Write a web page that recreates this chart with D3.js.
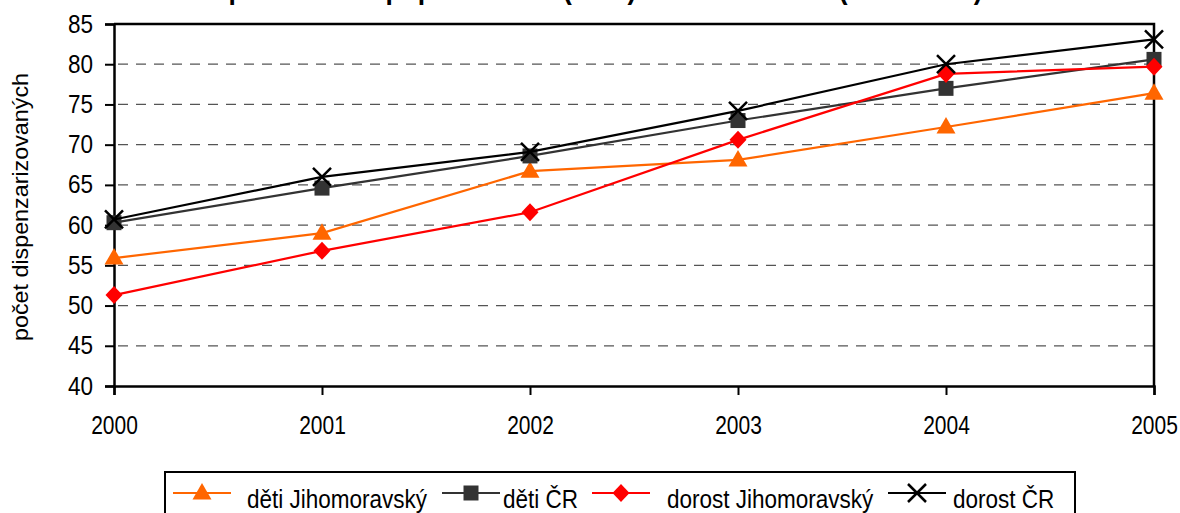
<!DOCTYPE html>
<html>
<head>
<meta charset="utf-8">
<script src="https://cdn.jsdelivr.net/npm/d3@7"></script>
<style>
  body { margin: 0; background: #fff; }
  svg text { font-family: "Liberation Sans", Arial, sans-serif; }
</style>
</head>
<body>
<div id="chart"></div>
<script>
// Chart data
var years = [2000, 2001, 2002, 2003, 2004, 2005];
var detiJMK = [55.9, 59.0, 66.7, 68.1, 72.2, 76.4];
var detiCR = [60.3, 64.6, 68.6, 73.0, 77.0, 80.6];
var dorostJMK = [51.3, 56.8, 61.6, 70.6, 78.8, 79.7];
var dorostCR = [60.7, 66.0, 69.1, 74.2, 80.0, 83.1];
var yTicks = [40, 45, 50, 55, 60, 65, 70, 75, 80, 85];
var seriesNames = ["děti Jihomoravský", "děti ČR", "dorost Jihomoravský", "dorost ČR"];

var svgWidth = 1180;
var svgHeight = 513;
var margin = { top: 24, right: 26, bottom: 127, left: 114 };
var width = svgWidth - margin.left - margin.right;
var height = svgHeight - margin.top - margin.bottom;

// squeeze text a bit, the original uses a narrow font
function condense(sel, f) {
  sel.each(function() {
    var w = this.getComputedTextLength();
    d3.select(this).attr("textLength", w * f).attr("lengthAdjust", "spacingAndGlyphs");
  });
}

var svg = d3.select("#chart").append("svg")
  .attr("width", svgWidth)
  .attr("height", svgHeight);

// title (only its bottom edge shows in the picture)
var title = svg.append("text")
  .attr("x", 585)
  .attr("y", -1)
  .attr("text-anchor", "middle")
  .attr("font-weight", "bold")
  .attr("font-size", 30)
  .text("Dispenzarizace populace dětí (JMK) a dorostu v ČR (2000-2005)");
condense(title, 0.88);

var chartGroup = svg.append("g")
  .attr("transform", `translate(${margin.left}, ${margin.top})`);

var x = d3.scaleLinear().domain([2000, 2005]).range([0, width]);
var y = d3.scaleLinear().domain([40, 85]).range([height, 0]);

// gridlines
chartGroup.selectAll(".grid")
  .data(yTicks.filter(d => d > 40 && d < 85))
  .enter().append("line")
  .attr("x1", 4).attr("x2", width)
  .attr("y1", d => y(d)).attr("y2", d => y(d))
  .attr("stroke", "#555")
  .attr("stroke-width", 1.2)
  .attr("stroke-dasharray", "10,8");

// frame top/right
chartGroup.append("path")
  .attr("d", `M0,0H${width}V${height}`)
  .attr("fill", "none")
  .attr("stroke", "#000")
  .attr("stroke-width", 2.5);

// axes
var leftAxis = d3.axisLeft(y).tickValues(yTicks).tickSize(9).tickPadding(12);
var bottomAxis = d3.axisBottom(x).tickValues(years).tickFormat(d3.format("d")).tickSize(9).tickPadding(31);

var gy = chartGroup.append("g").call(leftAxis);
var gx = chartGroup.append("g").attr("transform", `translate(0, ${height})`).call(bottomAxis);
[gy, gx].forEach(function(g) {
  g.select(".domain").attr("stroke-width", 2.5);
  g.selectAll(".tick line").attr("stroke-width", 2);
  g.selectAll("text").attr("font-size", 25).attr("fill", "#000")
    .style("font-family", '"Liberation Sans", Arial, sans-serif');
});
condense(gy.selectAll("text"), 0.9);
condense(gx.selectAll("text"), 0.84);
gx.selectAll(".tick text").attr("dy", "0.3em");

// y axis label
chartGroup.append("text")
  .attr("transform", "rotate(-90)")
  .attr("x", -(height / 2) - 2)
  .attr("y", -margin.left + 28)
  .attr("text-anchor", "middle")
  .attr("font-size", 22)
  .attr("textLength", 268)
  .attr("lengthAdjust", "spacingAndGlyphs")
  .text("počet dispenzarizovaných");

// series
var series = [
  { name: seriesNames[0], values: detiJMK, color: "#FF6600", symbol: "triangle" },
  { name: seriesNames[1], values: detiCR, color: "#333333", symbol: "square" },
  { name: seriesNames[2], values: dorostJMK, color: "#FF0000", symbol: "diamond" },
  { name: seriesNames[3], values: dorostCR, color: "#000000", symbol: "cross" }
];

var line = d3.line()
  .x((d, i) => x(years[i]))
  .y(d => y(d));

var shapes = {
  triangle: "M0,-10L9.5,6.5L-9.5,6.5Z",
  square: "M-7.5,-7.5H7.5V7.5H-7.5Z",
  diamond: "M0,-9L8.5,0L0,9L-8.5,0Z",
  cross: "M-9,-9L9,9M-9,9L9,-9"
};

function drawMarker(g, s) {
  if (s.symbol === "cross") {
    g.append("path")
      .attr("d", shapes.cross)
      .attr("stroke", s.color)
      .attr("stroke-width", 2.5)
      .attr("fill", "none");
  } else {
    g.append("path")
      .attr("d", shapes[s.symbol])
      .attr("fill", s.color);
  }
}

series.forEach(function(s) {
  chartGroup.append("path")
    .datum(s.values)
    .attr("d", line)
    .attr("fill", "none")
    .attr("stroke", s.color)
    .attr("stroke-width", 2.2);

  s.values.forEach(function(v, i) {
    var g = chartGroup.append("g")
      .attr("transform", `translate(${x(years[i])}, ${y(v)})`);
    drawMarker(g, s);
  });
});

// legend
var legend = svg.append("g").attr("transform", "translate(165, 472)");
legend.append("rect")
  .attr("x", 0).attr("y", 0)
  .attr("width", 910).attr("height", 60)
  .attr("fill", "#fff")
  .attr("stroke", "#000")
  .attr("stroke-width", 2);

var legendLineX = [8, 277, 427, 723];
var legendTextX = [82, 338, 502, 788];
series.forEach(function(s, i) {
  var item = legend.append("g").attr("transform", "translate(0, 21)");
  item.append("line")
    .attr("x1", legendLineX[i]).attr("x2", legendLineX[i] + 58)
    .attr("stroke", s.color)
    .attr("stroke-width", 2.2);
  var m = item.append("g").attr("transform", `translate(${legendLineX[i] + 29}, 0)`);
  drawMarker(m, s);
  var t = item.append("text")
    .attr("x", legendTextX[i])
    .attr("y", 15)
    .attr("font-size", 25)
    .text(s.name);
  condense(t, 0.9);
});
</script>
</body>
</html>
